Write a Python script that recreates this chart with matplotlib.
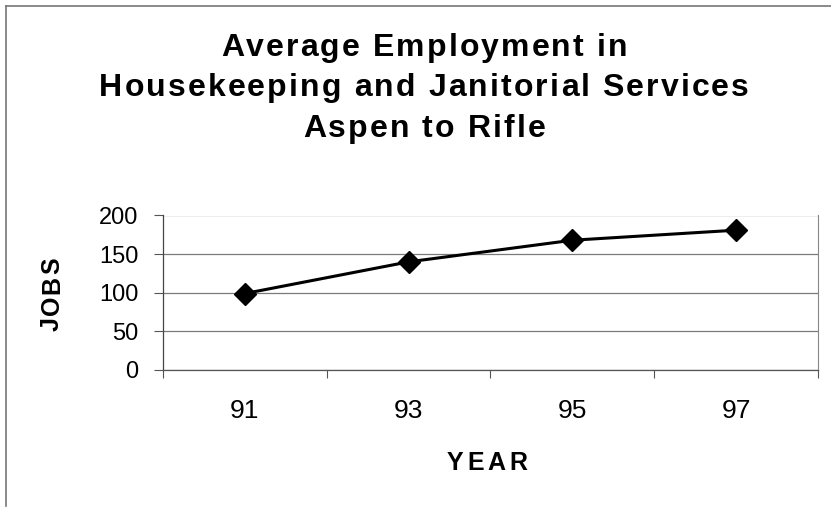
import matplotlib.pyplot as plt
from matplotlib.lines import Line2D
from matplotlib import font_manager, ft2font

plt.rcParams['font.family'] = ['Liberation Sans', 'DejaVu Sans']

# average jobs per survey year
years = ['91', '93', '95', '97']
jobs = [99, 140, 168, 181]

title_lines = ['Average Employment in',
               'Housekeeping and Janitorial Services',
               'Aspen to Rifle']

W, H = 831, 508
DPI = 100
fig = plt.figure(figsize=(W / DPI, H / DPI), dpi=DPI)
fig.patch.set_facecolor('white')

bold_path = font_manager.findfont(font_manager.FontProperties(family='Liberation Sans', weight='bold'))


def spaced_text(cx, cy, s, size, gap, rotation=0):
    """Bold text with extra tracking; cx, cy are pixel coords (y from top), cy is the baseline."""
    font = ft2font.FT2Font(bold_path)
    font.set_size(size, DPI)
    adv = [font.load_char(ord(c)).linearHoriAdvance / 65536 for c in s]
    total = sum(adv) + gap * (len(s) - 1)
    pos = -total / 2
    for c, a in zip(s, adv):
        mid = pos + a / 2
        if rotation == 90:
            x, y = cx, cy - mid
        else:
            x, y = cx + mid, cy
        fig.text(x / W, 1 - y / H, c, fontsize=size, fontweight='bold', rotation=rotation,
                 ha='center', va='baseline' if rotation == 0 else 'center',
                 rotation_mode='anchor')
        pos += a + gap


# plot area in pixel terms
left, right, top, bottom = 163, 818, 215.5, 370
ax = fig.add_axes([left / W, 1 - bottom / H, (right - left) / W, (bottom - top) / H])

x = range(len(years))
ax.plot(x, jobs, color='black', lw=2.2, marker='D', markersize=11,
        markerfacecolor='black', markeredgecolor='black', zorder=3)

ax.set_xlim(-0.5, len(years) - 0.5)
ax.set_ylim(0, 200)
ax.set_yticks([0, 50, 100, 150, 200])
ax.yaxis.grid(True, color='#7a7a7a', lw=0.9)
ax.set_axisbelow(True)

# category boundaries get tick marks, labels sit in between
ax.set_xticks([i - 0.5 for i in range(len(years) + 1)])
ax.set_xticklabels([])
ax.set_xticks(list(x), minor=True)
ax.set_xticklabels(years, minor=True)
ax.tick_params(axis='x', which='major', length=6, width=0.8, color='#555555')
ax.tick_params(axis='x', which='minor', length=0, pad=21, labelsize=19)
ax.tick_params(axis='y', length=6.5, width=0.8, color='#555555', pad=11, labelsize=17)

ax.spines['top'].set_visible(False)
ax.spines['left'].set_color('#444444')
ax.spines['left'].set_linewidth(0.9)
ax.spines['bottom'].set_color('#555555')
ax.spines['bottom'].set_linewidth(0.9)
ax.spines['right'].set_color('#888888')
ax.spines['right'].set_linewidth(0.8)

# axis titles
spaced_text(52, 294, 'JOBS', 18, 2, rotation=90)
spaced_text(487, 470, 'YEAR', 18, 4)

# chart title
for line, base in zip(title_lines, [56, 96, 137]):
    spaced_text(424, base, line, 23, 2.1)

# outer chart frame (left and top edges)
fig.add_artist(Line2D([6 / W, 6 / W], [1 - 506 / H, 1 - 6 / H], color='#777777', lw=1.2,
                      transform=fig.transFigure))
fig.add_artist(Line2D([6 / W, 1.0], [1 - 6 / H, 1 - 6 / H], color='#777777', lw=1.2,
                      transform=fig.transFigure))

fig.savefig('out.png', dpi=DPI)
